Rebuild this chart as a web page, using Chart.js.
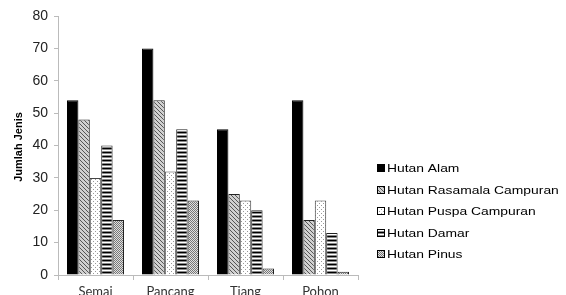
<!DOCTYPE html>
<html>
<head>
<meta charset="utf-8">
<script src="https://cdn.jsdelivr.net/npm/chart.js@4"></script>
<style>
  html, body { margin: 0; padding: 0; background: #fff; overflow: hidden; }
  #wrap { width: 566px; height: 295px; overflow: hidden; }
</style>
</head>
<body>
<div id="wrap"><canvas id="chart" width="566" height="302"></canvas></div>
<script>
const categories = ["Semai", "Pancang", "Tiang", "Pohon"];
const seriesNames = [
  "Hutan Alam",
  "Hutan Rasamala Campuran",
  "Hutan Puspa Campuran",
  "Hutan Damar",
  "Hutan Pinus",
];
const hutanAlam = [54, 70, 45, 54];
const hutanRasamala = [48, 54, 25, 17];
const hutanPuspa = [30, 32, 23, 23];
const hutanDamar = [40, 45, 20, 13];
const hutanPinus = [17, 23, 2, 1];
const yTicks = [0, 10, 20, 30, 40, 50, 60, 70, 80];

// little helper to build fill patterns from an offscreen canvas
function makePattern(w, h, draw) {
  const c = document.createElement("canvas");
  c.width = w;
  c.height = h;
  const g = c.getContext("2d");
  draw(g);
  return g.createPattern(c, "repeat");
}

const diag = makePattern(4, 4, (g) => {
  g.fillStyle = "#d0d0d0";
  g.fillRect(0, 0, 4, 4);
  g.fillStyle = "#555";
  for (let i = 0; i < 4; i++) g.fillRect(i, i, 1, 1);
});
const dots = makePattern(4, 4, (g) => {
  g.fillStyle = "#fff";
  g.fillRect(0, 0, 4, 4);
  g.fillStyle = "#999";
  g.fillRect(1, 1, 1, 1);
  g.fillRect(3, 3, 1, 1);
});
const stripes = makePattern(4, 4, (g) => {
  g.fillStyle = "#888";
  g.fillRect(0, 0, 4, 4);
  g.fillStyle = "#000";
  g.fillRect(0, 0, 4, 1);
  g.fillStyle = "#fff";
  g.fillRect(0, 2, 4, 1);
});
const checker = makePattern(2, 2, (g) => {
  g.fillStyle = "#e0e0e0";
  g.fillRect(0, 0, 2, 2);
  g.fillStyle = "#777";
  g.fillRect(0, 0, 1, 1);
  g.fillRect(1, 1, 1, 1);
});

const fills = ["#000", diag, dots, stripes, checker];
const borders = ["#000", "#222", "#444", "#222", "#222"];
const values = [hutanAlam, hutanRasamala, hutanPuspa, hutanDamar, hutanPinus];

// legend on the right, text a bit stretched like the source image
const sideLegend = {
  id: "sideLegend",
  afterDraw(chart) {
    const ctx = chart.ctx;
    ctx.save();
    ctx.textBaseline = "middle";
    chart.data.datasets.forEach((ds, i) => {
      const y = Math.round(168 + i * 21.5);
      ctx.fillStyle = ds.backgroundColor;
      ctx.fillRect(377, y - 4, 8, 8);
      ctx.strokeStyle = "#000";
      ctx.lineWidth = 1;
      ctx.strokeRect(377.5, y - 3.5, 7, 7);
      ctx.save();
      ctx.translate(387, y + 1);
      ctx.scale(1.26, 1);
      ctx.font = "11px 'Liberation Sans', Arial, sans-serif";
      ctx.fillStyle = "#000";
      ctx.fillText(ds.label, 0, 0);
      ctx.restore();
    });
    // y axis title
    ctx.translate(19, 147);
    ctx.rotate(-Math.PI / 2);
    ctx.font = "bold 11px 'Liberation Sans Narrow', 'Liberation Sans', Arial, sans-serif";
    ctx.textAlign = "center";
    ctx.fillStyle = "#000";
    ctx.fillText("Jumlah Jenis", 0, 0);
    ctx.restore();
  },
};

new Chart(document.getElementById("chart"), {
  type: "bar",
  data: {
    labels: categories,
    datasets: seriesNames.map((name, i) => ({
      label: name,
      data: values[i],
      backgroundColor: fills[i],
      borderColor: borders[i],
      borderWidth: 1,
      borderSkipped: "bottom",
    })),
  },
  options: {
    responsive: false,
    animation: false,
    layout: { padding: { top: 16, right: 208, left: 0, bottom: 0 } },
    categoryPercentage: 0.76,
    barPercentage: 1,
    plugins: { legend: { display: false }, tooltip: { enabled: false } },
    scales: {
      x: {
        grid: { drawOnChartArea: false, tickLength: 5, color: "#bbb" },
        border: { color: "#bbb" },
        ticks: {
          color: "#333",
          padding: 4,
          font: { size: 13, family: "Lato, 'Liberation Sans', sans-serif" },
        },
        afterFit: (s) => { s.height = 27; },
      },
      y: {
        min: 0,
        max: 80,
        afterBuildTicks: (s) => { s.ticks = yTicks.map((v) => ({ value: v })); },
        grid: { drawOnChartArea: false, tickLength: 4, color: "#bbb" },
        border: { color: "#bbb" },
        ticks: {
          color: "#222",
          padding: 6,
          font: { size: 14, family: "'Liberation Sans', Arial, sans-serif" },
        },
        afterFit: (s) => { s.width = 58; },
      },
    },
  },
  plugins: [sideLegend],
});
</script>
</body>
</html>
